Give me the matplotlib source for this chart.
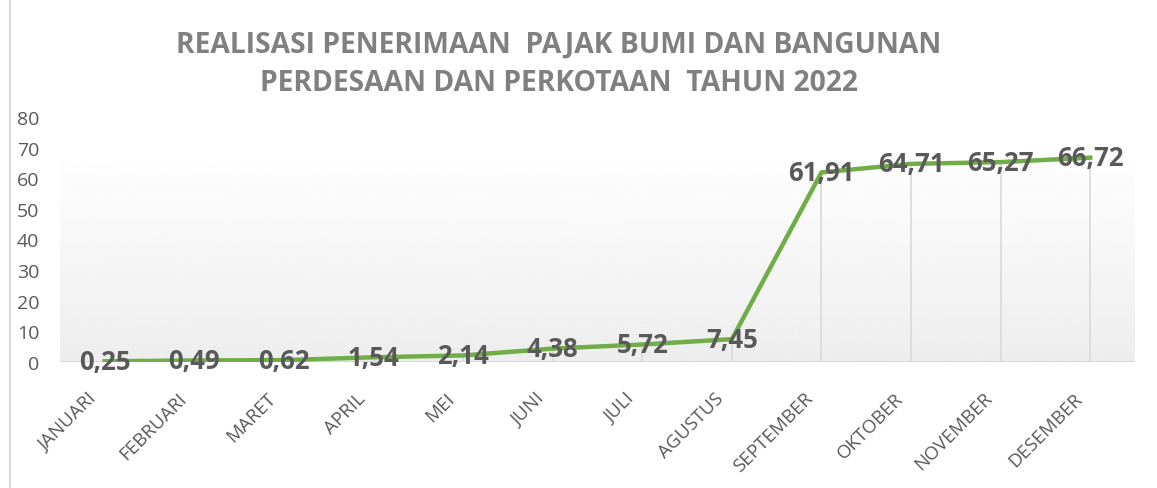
import numpy as np
import matplotlib
matplotlib.use('Agg')
import matplotlib.pyplot as plt
from matplotlib.transforms import ScaledTranslation
from matplotlib.lines import Line2D

months = ['JANUARI', 'FEBRUARI', 'MARET', 'APRIL', 'MEI', 'JUNI', 'JULI',
          'AGUSTUS', 'SEPTEMBER', 'OKTOBER', 'NOVEMBER', 'DESEMBER']
realisasi = [0.25, 0.49, 0.62, 1.54, 2.14, 4.38, 5.72, 7.45, 61.91, 64.71, 65.27, 66.72]
yticks = [0, 10, 20, 30, 40, 50, 60, 70, 80]
title = 'REALISASI PENERIMAAN  PAJAK BUMI DAN BANGUNAN\nPERDESAAN DAN PERKOTAAN  TAHUN 2022'

GREEN = '#70AD47'
DARK = '#595959'

W, H = 1157, 489
fig = plt.figure(figsize=(W / 100, H / 100), dpi=100)
# axes box in pixels: x 60..1135, y(0)=363, y(80)=118
ax = fig.add_axes([60 / W, (H - 363) / H, (1135 - 60) / W, (363 - 118) / H])
x = np.arange(len(months))

# gradient backdrop (plot area fill)
grad = np.linspace(1.0, 0.93, 256).reshape(-1, 1)
ax.imshow(grad, cmap='gray', vmin=0, vmax=1, aspect='auto',
          extent=[-0.5, len(months) - 0.5, 0, 69.5], zorder=0, interpolation='bicubic')

# drop lines
ax.vlines(x, 0, realisasi, color='#d9d9d9', lw=1.2, zorder=1)
ax.axhline(0, color='#d9d9d9', lw=1.5, zorder=1)

ax.plot(x, realisasi, color=GREEN, lw=3.2, zorder=3, solid_joinstyle='round')

for xi, v in zip(x, realisasi):
    ax.text(xi, v, f'{v:.2f}'.replace('.', ','), ha='center', va='center',
            fontsize=18.5, fontweight='bold', color=DARK, family='Open Sans', zorder=4)

ax.set_xlim(-0.5, len(months) - 0.5)
ax.set_ylim(0, 80)
ax.set_yticks(yticks)
ax.set_yticklabels([str(t) for t in yticks], fontsize=14, color=DARK, family='Open Sans')
ax.set_xticks(x)
ax.set_xticklabels(months, rotation=45, ha='right', va='center', rotation_mode='anchor',
                   fontsize=13.5, color=DARK, family='Open Sans')
ax.tick_params(axis='both', length=0)
ax.tick_params(axis='y', pad=15)
ax.tick_params(axis='x', pad=0)
off = ScaledTranslation(-11 / 100, -33 / 100, fig.dpi_scale_trans)
for lab in ax.get_xticklabels():
    lab.set_transform(lab.get_transform() + off)
for s in ax.spines.values():
    s.set_visible(False)

fig.text(559 / W, 1 - 64 / H, title, ha='center', va='center', fontsize=20.3,
         fontweight='bold', color='#808080', family='Open Sans', linespacing=1.42)

# chart border on the left
fig.add_artist(Line2D([10 / W, 10 / W], [0, 1], transform=fig.transFigure,
                      color='#d9d9d9', lw=1.5))

fig.savefig('out.png', dpi=100)
